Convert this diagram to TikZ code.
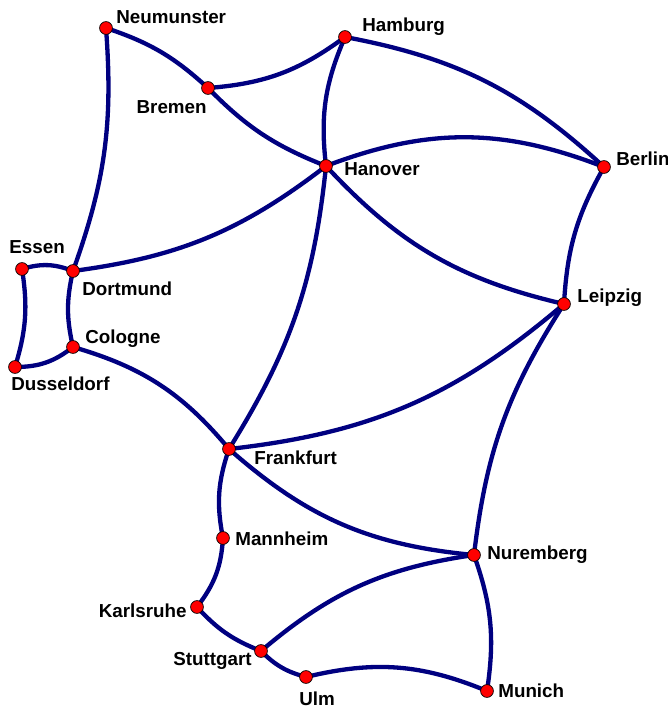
\documentclass[tikz,border=0pt]{standalone}
\usepackage{fontspec}
\setmainfont{Liberation Sans}
\usetikzlibrary{backgrounds}
\definecolor{linkblue}{RGB}{0,0,128}
\tikzset{
  city/.style={circle, fill=red, draw=black, line width=0.4pt, inner sep=0pt, minimum size=7.3pt},
  cityname/.style={font=\bfseries\fontsize{10.7}{12}\selectfont, inner sep=0pt},
  link/.style={draw=linkblue, line width=2.45pt},
}
\begin{document}
\begin{tikzpicture}
        \useasboundingbox (0,0) rectangle (13.36,14.16);

        % cities
        \node[city] (neu) at (2.12,13.60) {};
        \node[city] (ham) at (6.90,13.42) {};
        \node[city] (bre) at (4.16,12.40) {};
        \node[city] (han) at (6.52,10.84) {};
        \node[city] (ber) at (12.08,10.82) {};
        \node[city] (ess) at (0.44,8.78) {};
        \node[city] (dor) at (1.46,8.74) {};
        \node[city] (lei) at (11.28,8.08) {};
        \node[city] (col) at (1.46,7.22) {};
        \node[city] (dus) at (0.30,6.82) {};
        \node[city] (fra) at (4.58,5.18) {};
        \node[city] (man) at (4.46,3.40) {};
        \node[city] (nur) at (9.48,3.06) {};
        \node[city] (kar) at (3.94,2.02) {};
        \node[city] (stu) at (5.22,1.14) {};
        \node[city] (ulm) at (6.12,0.62) {};
        \node[city] (mun) at (9.74,0.34) {};

        % names
        \node[cityname, anchor=base west] (neu-t) at (2.32,13.68) {Neumunster};
        \node[cityname, anchor=base west] (ham-t) at (7.24,13.52) {Hamburg};
        \node[cityname, anchor=base east] (bre-t) at (4.14,11.88) {Bremen};
        \node[cityname, anchor=base west] (han-t) at (6.88,10.64) {Hanover};
        \node[cityname, anchor=base west] (ber-t) at (12.32,10.84) {Berlin};
        \node[cityname, anchor=base west] (ess-t) at (0.18,9.08) {Essen};
        \node[cityname, anchor=base west] (dor-t) at (1.64,8.24) {Dortmund};
        \node[cityname, anchor=base west] (lei-t) at (11.54,8.10) {Leipzig};
        \node[cityname, anchor=base west] (col-t) at (1.70,7.28) {Cologne};
        \node[cityname, anchor=base west] (dus-t) at (0.22,6.34) {Dusseldorf};
        \node[cityname, anchor=base west] (fra-t) at (5.08,4.86) {Frankfurt};
        \node[cityname, anchor=base west] (man-t) at (4.70,3.26) {Mannheim};
        \node[cityname, anchor=base west] (nur-t) at (9.74,2.98) {Nuremberg};
        \node[cityname, anchor=base east] (kar-t) at (3.74,1.82) {Karlsruhe};
        \node[cityname, anchor=base east] (stu-t) at (5.04,0.86) {Stuttgart};
        \node[cityname, anchor=base west] (ulm-t) at (5.98,0.04) {Ulm};
        \node[cityname, anchor=base west] (mun-t) at (9.96,0.22) {Munich};

        % links, behind the cities
        \begin{scope}[on background layer, every path/.style={link}]
            \draw (neu.center) to[bend left=12] (bre.center);
            \draw (neu.center) to[bend left=12] (dor.center);
            \draw (bre.center) to[bend right=16] (ham.center);
            \draw (bre.center) to[bend right=12] (han.center);
            \draw (ham.center) to[bend right=15] (han.center);
            \draw (ham.center) to[bend left=16] (ber.center);
            \draw (han.center) to[bend left=21] (ber.center);
            \draw (han.center) to[bend left=15] (dor.center);
            \draw (han.center) to[bend right=17] (lei.center);
            \draw (han.center) to[bend left=13] (fra.center);
            \draw (ber.center) to[bend right=13] (lei.center);
            \draw (ess.center) to[bend left=19] (dor.center);
            \draw (ess.center) to[bend left=13] (dus.center);
            \draw (dus.center) to[bend right=19] (col.center);
            \draw (dor.center) to[bend right=13] (col.center);
            \draw (col.center) to[bend left=17] (fra.center);
            \draw (fra.center) to[bend right=17] (lei.center);
            \draw (fra.center) to[bend right=15] (man.center);
            \draw (fra.center) to[bend right=18] (nur.center);
            \draw (lei.center) to[bend right=13] (nur.center);
            \draw (man.center) to[bend left=17] (kar.center);
            \draw (kar.center) to[bend right=13] (stu.center);
            \draw (stu.center) to[bend left=16] (nur.center);
            \draw (stu.center) to[bend right=15] (ulm.center);
            \draw (ulm.center) to[bend left=18] (mun.center);
            \draw (nur.center) to[bend left=14] (mun.center);
        \end{scope}
\end{tikzpicture}
\end{document}
